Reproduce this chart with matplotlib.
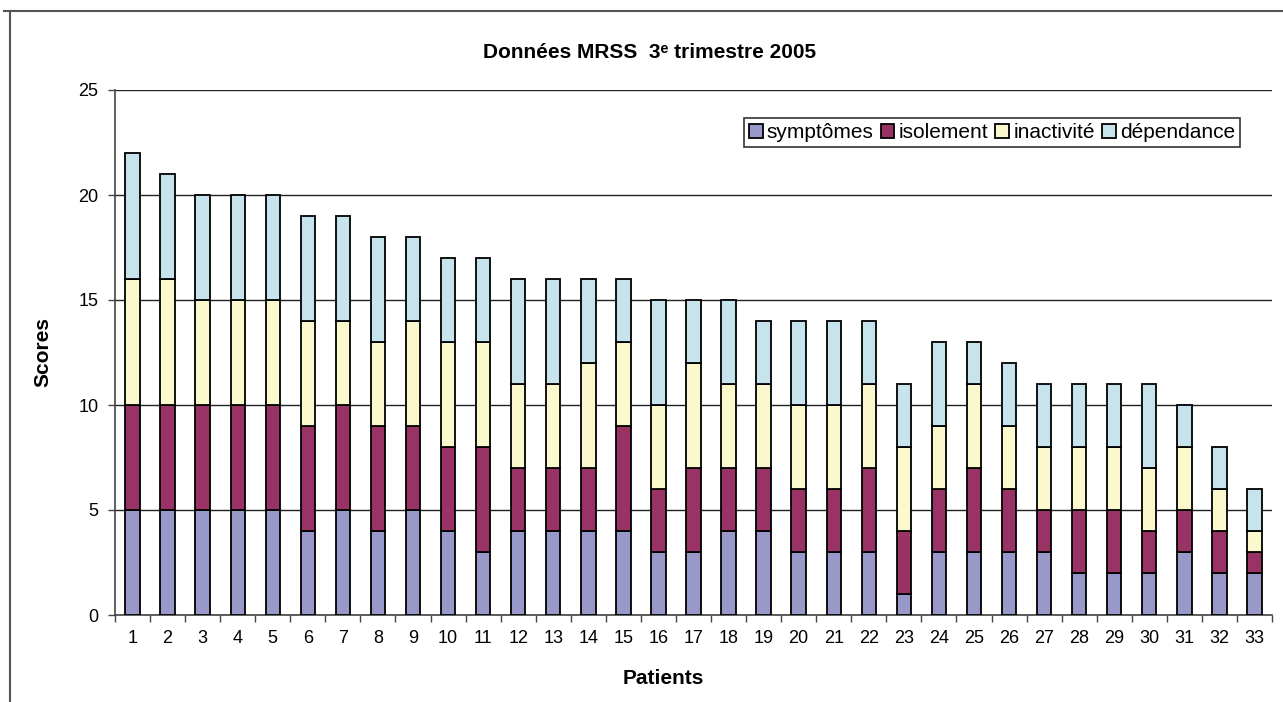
import matplotlib
matplotlib.use("Agg")
import matplotlib.pyplot as plt
from matplotlib.lines import Line2D
import numpy as np

plt.rcParams["font.family"] = ["Liberation Sans", "DejaVu Sans"]

patients = [str(i) for i in range(1, 34)]
symptomes  = [5, 5, 5, 5, 5, 4, 5, 4, 5, 4, 3, 4, 4, 4, 4, 3, 3, 4, 4, 3, 3, 3, 1, 3, 3, 3, 3, 2, 2, 2, 3, 2, 2]
isolement  = [5, 5, 5, 5, 5, 5, 5, 5, 4, 4, 5, 3, 3, 3, 5, 3, 4, 3, 3, 3, 3, 4, 3, 3, 4, 3, 2, 3, 3, 2, 2, 2, 1]
inactivite = [6, 6, 5, 5, 5, 5, 4, 4, 5, 5, 5, 4, 4, 5, 4, 4, 5, 4, 4, 4, 4, 4, 4, 3, 4, 3, 3, 3, 3, 3, 3, 2, 1]
dependance = [6, 5, 5, 5, 5, 5, 5, 5, 4, 4, 4, 5, 5, 4, 3, 5, 3, 4, 3, 4, 4, 3, 3, 4, 2, 3, 3, 3, 3, 4, 2, 2, 2]

series = [("symptômes", symptomes, "#9999c9"),
          ("isolement", isolement, "#993366"),
          ("inactivité", inactivite, "#fbf8cd"),
          ("dépendance", dependance, "#c7e4ed")]

W, H = 1283, 702
fig = plt.figure(figsize=(W / 100, H / 100), dpi=100)
ax = fig.add_axes([115 / W, 1 - 615 / H, (1272 - 115) / W, (615 - 90) / H])

x = np.arange(len(patients))
bottom = np.zeros(len(patients))
for name, vals, col in series:
    v = np.array(vals, float)
    ax.bar(x, v, 0.41, bottom=bottom, color=col, edgecolor="black",
           linewidth=1.3, label=name, zorder=3)
    bottom += v

ax.set_xlim(-0.5, len(patients) - 0.5)
ax.set_ylim(0, 25)
ax.set_yticks(range(0, 26, 5))
ax.grid(axis="y", color="#222", lw=1.0, zorder=0)
ax.set_axisbelow(True)

ax.set_xticks(x)
ax.set_xticklabels(patients)
ax.set_xticks(np.arange(-0.5, len(patients)), minor=True)
ax.tick_params(axis="x", which="major", length=0, pad=11, labelsize=13)
ax.tick_params(axis="x", which="minor", length=5, width=1, color="#444", direction="out")
ax.tick_params(axis="y", length=5, width=1, color="#444", pad=7, labelsize=13)

for s in ("top", "right"):
    ax.spines[s].set_visible(False)
for s in ("left", "bottom"):
    ax.spines[s].set_color("#444")
    ax.spines[s].set_linewidth(1.2)

leg = ax.legend(loc="upper right", bbox_to_anchor=((1240 - 115) / 1157, (615 - 118) / 525),
                ncol=4, fontsize=15, frameon=True, fancybox=False,
                handlelength=0.65, handleheight=0.65, handletextpad=0.2,
                columnspacing=0.35, borderpad=0.25, borderaxespad=0)
leg.get_frame().set_edgecolor("black")
leg.get_frame().set_linewidth(1.2)

fig.text(650 / W, 1 - 53 / H, "Données MRSS  3ᵉ trimestre 2005", ha="center", va="center",
         fontsize=15, fontweight="bold")
fig.text(43 / W, 1 - 352 / H, "Scores", rotation=90, ha="center", va="center",
         fontsize=15, fontweight="bold")
fig.text(663 / W, 1 - 678 / H, "Patients", ha="center", va="center",
         fontsize=15, fontweight="bold")

# chart-area frame, cut off at right and bottom like the original
fig.add_artist(Line2D([4 / W, 1], [1 - 11 / H] * 2, color="#555", lw=1.5))
fig.add_artist(Line2D([10 / W] * 2, [0, 1 - 11 / H], color="#555", lw=1.5))

fig.savefig("out.png", dpi=100)
